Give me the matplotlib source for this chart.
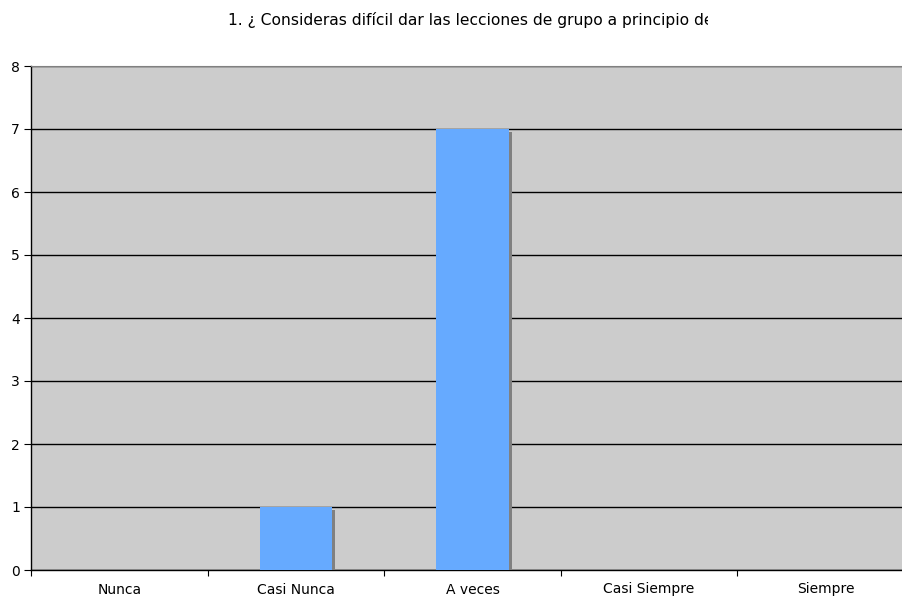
import matplotlib
matplotlib.use("Agg")
import matplotlib.pyplot as plt
import matplotlib.patheffects as pe
from matplotlib.transforms import Bbox
import numpy as np

categories = ["Nunca", "Casi Nunca", "A veces", "Casi Siempre", "Siempre"]
values = [0, 1, 7, 0, 0]
title = "1. ¿ Consideras difícil dar las lecciones de grupo a principio de"

W, H = 902, 601
fig = plt.figure(figsize=(W / 100, H / 100), dpi=100)
fig.patch.set_facecolor("white")
ax = fig.add_axes([31 / W, 31 / H, 883 / W, 504 / H])
ax.set_facecolor("#cccccc")

x = np.arange(len(categories))
bars = ax.bar(x, values, width=0.41, color="#66aaff", zorder=3)
for b in bars:
    b.set_path_effects([pe.SimplePatchShadow(offset=(2.2, -2.2), shadow_rgbFace="#808080", alpha=1.0), pe.Normal()])

ax.set_xlim(-0.5, len(categories) - 0.5)
ax.set_ylim(0, 8)
ax.set_yticks(range(0, 9))
ax.yaxis.grid(True, color="black", linewidth=1.0, zorder=1)
ax.set_axisbelow(True)

ax.set_xticks(x)
ax.set_xticklabels(categories, fontsize=10)
ax.tick_params(axis="x", length=0, pad=9)
ax.set_xticks(np.arange(-0.5, len(categories) + 0.5, 1), minor=True)
ax.tick_params(axis="x", which="minor", length=4, width=0.8, direction="out")
ax.tick_params(axis="y", length=5, width=0.8, direction="out", labelsize=10, pad=3)

for s in ["left", "bottom"]:
    ax.spines[s].set_color("black")
    ax.spines[s].set_linewidth(1.0)
ax.spines["top"].set_color("#808080")
ax.spines["right"].set_visible(False)

t = fig.text(228 / W, 1 - 20 / H, title, ha="left", va="center", fontsize=11.2)
t.set_clip_box(Bbox.from_extents(0, 0, 708, H))
t.set_clip_on(True)

fig.savefig("out.png", dpi=100)
